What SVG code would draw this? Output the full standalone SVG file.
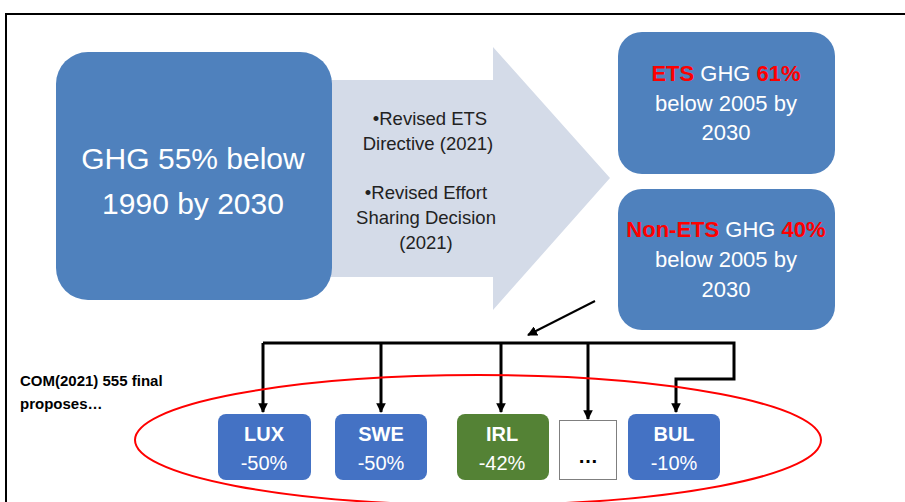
<svg xmlns="http://www.w3.org/2000/svg" width="905" height="502" viewBox="0 0 905 502">
<defs>
<style>
.t{font-family:"Liberation Sans",Arial,sans-serif;text-anchor:middle}
.w{fill:#fff}
.r{fill:#ff0000}
.conn{stroke:#000;stroke-width:3;fill:none}
.cbox{fill:#4472c4}
</style>
<marker id="ah" viewBox="0 0 10 10" refX="9" refY="5" markerWidth="3.2" markerHeight="3.2" orient="auto" markerUnits="strokeWidth">
<path d="M0,0 L10,5 L0,10 z" fill="#000"/>
</marker>
<marker id="ah2" viewBox="0 0 10 10" refX="9" refY="5" markerWidth="5" markerHeight="5" orient="auto" markerUnits="strokeWidth">
<path d="M0,0 L10,5 L0,10 z" fill="#000"/>
</marker>
</defs>
<rect x="0" y="0" width="905" height="502" fill="#fff"/>
<path d="M6,502 V14 H905" fill="none" stroke="#000" stroke-width="2"/>

<g id="arrow-main">
<path d="M326,80 H493 V47 L610,178 L493,310 V277 H326 Z" fill="#d4dbe8"/>
<text class="t" font-size="18.5" fill="#222"><tspan x="430" y="125">•Revised ETS</tspan><tspan x="428" y="150">Directive (2021)</tspan><tspan x="426" y="199">•Revised Effort</tspan><tspan x="426" y="224">Sharing Decision</tspan><tspan x="426" y="249">(2021)</tspan></text>
</g>

<g id="node-ghg">
<rect x="56" y="52" width="276" height="248" rx="32" fill="#4f81bd"/>
<text class="t w" font-size="30"><tspan x="193" y="169">GHG 55% below</tspan><tspan x="193" y="214">1990 by 2030</tspan></text>
</g>

<g id="node-ets">
<rect x="618" y="32" width="217" height="142" rx="24" fill="#4f81bd"/>
<text class="t w" font-size="22"><tspan x="726" y="81"><tspan class="r" font-weight="bold">ETS</tspan> GHG <tspan class="r" font-weight="bold">61%</tspan></tspan><tspan x="726" y="111">below 2005 by</tspan><tspan x="726" y="140">2030</tspan></text>
</g>

<g id="node-nonets">
<rect x="618" y="189" width="217" height="141" rx="24" fill="#4f81bd"/>
<text class="t w" font-size="22"><tspan x="726" y="237"><tspan class="r" font-weight="bold">Non-ETS</tspan> GHG <tspan class="r" font-weight="bold">40%</tspan></tspan><tspan x="726" y="267">below 2005 by</tspan><tspan x="726" y="297">2030</tspan></text>
</g>

<g id="label-com">
<text font-family="'Liberation Sans',Arial,sans-serif" font-size="15" font-weight="bold" fill="#000"><tspan x="20" y="386">COM(2021) 555 final</tspan><tspan x="20" y="409">proposes…</tspan></text>
</g>

<g id="connectors">
<line x1="595" y1="301" x2="528" y2="335" stroke="#000" stroke-width="2" marker-end="url(#ah2)"/>
<path class="conn" d="M263,343 H734 V379 H676 V412" marker-end="url(#ah)"/>
<line class="conn" x1="263" y1="343" x2="263" y2="412" marker-end="url(#ah)"/>
<line class="conn" x1="381" y1="343" x2="381" y2="412" marker-end="url(#ah)"/>
<line class="conn" x1="501" y1="343" x2="501" y2="412" marker-end="url(#ah)"/>
<line class="conn" x1="588" y1="343" x2="588" y2="419" marker-end="url(#ah)"/>
</g>

<g id="node-lux">
<rect class="cbox" x="218" y="414" width="93" height="66" rx="8"/>
<text class="t w" font-size="20"><tspan x="264" y="441" font-weight="bold">LUX</tspan><tspan x="264" y="470">-50%</tspan></text>
</g>
<g id="node-swe">
<rect class="cbox" x="335" y="414" width="92" height="66" rx="8"/>
<text class="t w" font-size="20"><tspan x="381" y="441" font-weight="bold">SWE</tspan><tspan x="381" y="470">-50%</tspan></text>
</g>
<g id="node-irl">
<rect x="457" y="414" width="92" height="66" rx="8" fill="#548235"/>
<text class="t w" font-size="20"><tspan x="502" y="441" font-weight="bold">IRL</tspan><tspan x="502" y="470">-42%</tspan></text>
</g>
<g id="node-more">
<rect x="559.5" y="420.5" width="57" height="59" fill="#fff" stroke="#7f7f7f" stroke-width="1"/>
<text class="t" font-size="20" font-weight="bold" fill="#000" x="588" y="463">…</text>
</g>
<g id="node-bul">
<rect class="cbox" x="628" y="414" width="92" height="66" rx="8"/>
<text class="t w" font-size="20"><tspan x="674" y="441" font-weight="bold">BUL</tspan><tspan x="674" y="470">-10%</tspan></text>
</g>

<g id="ellipse">
<ellipse cx="478" cy="440" rx="343" ry="65" fill="none" stroke="#ff0000" stroke-width="2"/>
</g>
</svg>
